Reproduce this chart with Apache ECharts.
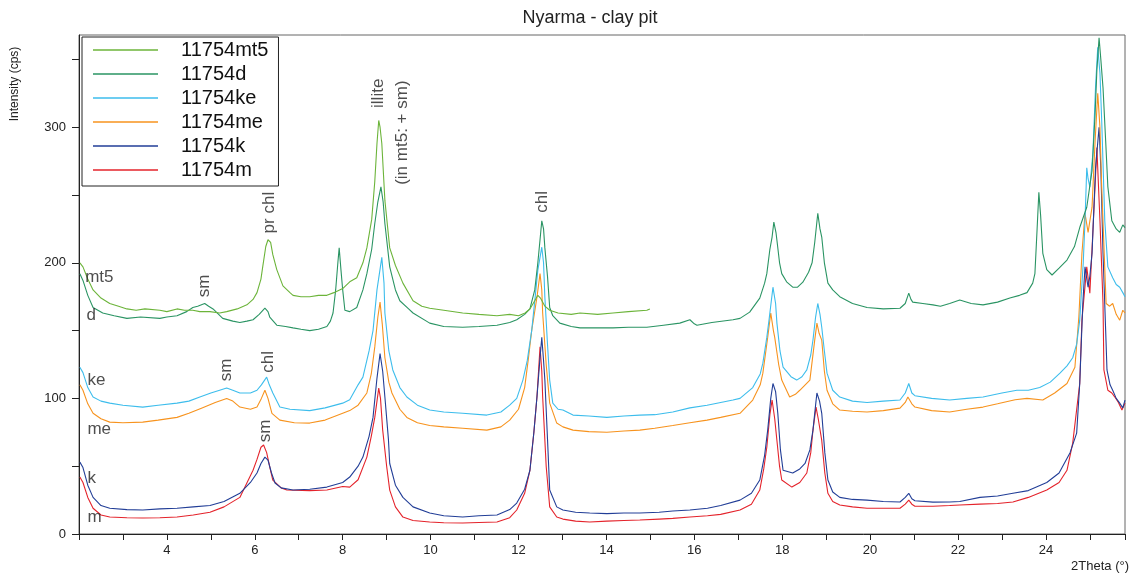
<!DOCTYPE html>
<html>
<head>
<meta charset="utf-8">
<script src="https://cdn.jsdelivr.net/npm/echarts@6/dist/echarts.min.js"></script>
<style>
  html, body { margin: 0; padding: 0; background: #fff; }
  #chart { width: 1141px; height: 577px; }
</style>
</head>
<body>
<div id="chart"></div>
<script>
// series names and colours
const seriesNames = ['11754mt5', '11754d', '11754ke', '11754me', '11754k', '11754m'];
const seriesColors = ['#6cb43a', '#2a9463', '#3dbdec', '#f7931e', '#223e97', '#e4232b'];

// [2theta, cps]
const mt5 = [[2.02,200],[2.09,197],[2.2,188],[2.32,180],[2.5,174],[2.7,170],[2.9,168],[3.09,166],[3.3,165],[3.5,166],[3.84,165],[4.0,164],[4.23,166],[4.4,165],[4.59,165],[4.75,164],[4.98,164],[5.2,163],[5.36,164],[5.6,166],[5.82,169],[5.96,173],[6.05,178],[6.14,188],[6.18,197],[6.25,212],[6.30,217],[6.36,215],[6.41,206],[6.50,195],[6.64,183],[6.8,178],[6.87,176],[7.05,175],[7.25,175],[7.45,176],[7.64,176],[7.8,178],[8.0,181],[8.16,186],[8.32,189],[8.46,200],[8.55,211],[8.66,232],[8.73,260],[8.78,288],[8.82,305],[8.85,300],[8.89,288],[8.96,246],[9.07,211],[9.2,198],[9.37,185],[9.6,172],[9.8,168],[9.98,166.5],[10.3,165],[10.73,163],[11.1,162],[11.51,161],[11.8,162],[12.0,161],[12.15,163],[12.26,166],[12.37,172],[12.44,176],[12.50,174],[12.60,168],[12.71,165],[12.9,163],[13.2,162],[13.40,163],[13.8,162],[14.15,163],[14.5,164],[14.92,165],[14.99,166]];
const d = [[2.02,192],[2.09,187],[2.2,176],[2.32,167],[2.54,163],[2.8,161],[3.09,159],[3.4,160],[3.84,159],[4.0,160],[4.23,161],[4.45,164],[4.59,167],[4.7,168],[4.86,170],[4.95,168],[5.05,166],[5.27,159],[5.5,157],[5.66,156],[5.82,157],[5.96,158],[6.10,162],[6.23,166.5],[6.30,164],[6.34,160],[6.50,154],[6.7,153],[6.87,152],[7.05,151],[7.25,150],[7.45,151],[7.64,153],[7.72,157],[7.78,163],[7.84,180],[7.89,200],[7.92,211],[7.96,195],[8.0,180],[8.05,165],[8.16,164],[8.32,167],[8.46,180],[8.55,192],[8.66,210],[8.73,229],[8.80,245],[8.87,256],[8.92,245],[8.96,229],[9.07,197],[9.2,180],[9.30,172],[9.5,166],[9.6,163],[9.98,155.5],[10.3,153],[10.73,152.5],[11.1,153],[11.51,154],[11.8,156],[11.96,158],[12.14,162],[12.26,166],[12.37,180],[12.44,200],[12.49,217],[12.53,231],[12.57,225],[12.60,211],[12.66,190],[12.71,167],[12.78,161],[12.94,155.5],[13.2,153],[13.40,152],[13.8,152],[14.15,152],[14.5,152.5],[14.92,152.5],[15.3,154],[15.67,155.5],[15.90,158],[16.0,155],[16.06,154],[16.4,156],[16.88,158],[17.04,159],[17.26,163.6],[17.49,174],[17.60,185],[17.65,192],[17.72,210],[17.77,219],[17.81,230],[17.86,222],[17.88,216.6],[17.94,200],[17.99,192],[18.1,186],[18.24,182],[18.35,182],[18.47,185.7],[18.6,193],[18.68,200],[18.74,215],[18.81,236.5],[18.86,225],[18.90,219],[18.96,200],[19.04,185],[19.15,180],[19.31,175],[19.6,170],[19.93,167],[20.3,166],[20.68,166.5],[20.80,170],[20.88,177.6],[20.93,173],[20.97,171],[21.2,170],[21.43,169],[21.6,168],[21.81,170],[22.04,172.5],[22.3,170],[22.57,169],[22.9,171],[23.18,174],[23.4,176],[23.57,178],[23.70,185],[23.75,192],[23.80,225],[23.84,252],[23.88,235],[23.93,207],[24.02,195],[24.14,191],[24.3,196],[24.48,202],[24.65,212],[24.77,226],[24.93,241],[25.05,268],[25.12,310],[25.16,342],[25.21,366],[25.25,350],[25.30,329],[25.36,290],[25.41,256],[25.50,231],[25.60,225],[25.68,222.5],[25.75,228],[25.80,226]];
const ke = [[2.02,123],[2.09,119],[2.2,108],[2.32,101],[2.5,98],[2.70,96.5],[3.0,95],[3.45,93.6],[3.8,95],[4.23,96.5],[4.5,98],[4.75,101],[5.0,104],[5.2,106],[5.36,107.6],[5.5,106],[5.66,104],[5.9,104],[6.05,106],[6.15,110],[6.27,115.7],[6.33,110],[6.41,104],[6.57,93.6],[6.8,92],[7.25,91],[7.6,93],[8.0,96.5],[8.16,99],[8.35,110],[8.46,115.7],[8.60,135],[8.69,150],[8.78,180],[8.89,204],[8.94,185],[8.96,163],[9.05,135],[9.14,121],[9.30,108],[9.46,101],[9.7,95],[9.98,91.4],[10.3,90],[10.73,89],[11.28,87.7],[11.6,90],[11.80,95],[11.96,100],[12.10,113.5],[12.20,128],[12.30,150],[12.38,175],[12.44,194.5],[12.53,211.5],[12.57,200],[12.60,174.6],[12.66,140],[12.71,113.5],[12.78,96.5],[12.90,92],[13.01,91.4],[13.24,87.7],[13.6,87],[14.01,86],[14.4,87],[14.76,87.7],[15.1,88],[15.51,90],[15.9,93],[16.29,95],[16.6,97],[16.88,98.8],[17.04,100],[17.33,108],[17.50,118],[17.56,126],[17.65,145],[17.70,157.7],[17.79,182],[17.85,170],[17.88,155.5],[17.95,135],[18.02,123],[18.2,116],[18.33,113.5],[18.45,116],[18.56,121],[18.65,132],[18.70,143],[18.76,160],[18.81,170],[18.86,162],[18.90,152.5],[18.96,135],[19.02,118.6],[19.15,106],[19.31,101],[19.6,98],[19.93,97],[20.3,98],[20.68,98.8],[20.80,104],[20.88,111],[20.95,104],[21.02,102],[21.4,100],[21.81,98.8],[22.2,100],[22.57,101],[23.0,104],[23.34,106],[23.6,106],[23.86,108],[24.1,112],[24.32,118.6],[24.48,124],[24.61,130],[24.70,140],[24.77,157.7],[24.85,200],[24.89,231],[24.93,270],[24.96,262],[25.00,256],[25.07,281],[25.13,330],[25.18,359],[25.23,340],[25.27,305],[25.34,231],[25.41,197],[25.52,189],[25.60,184],[25.68,182],[25.75,178],[25.80,175]];
const me = [[2.02,110],[2.09,106],[2.2,96],[2.32,89],[2.5,85],[2.70,82.5],[3.0,82],[3.45,82.5],[3.8,84],[4.23,86],[4.5,89],[4.8,93],[5.1,97],[5.36,100],[5.5,98],[5.66,93.6],[5.9,92],[6.05,93.6],[6.15,100],[6.23,106],[6.30,100],[6.39,89],[6.57,84],[6.9,82],[7.25,81.8],[7.6,84],[8.0,89],[8.16,91],[8.35,95],[8.55,104],[8.65,118],[8.73,138],[8.80,160],[8.85,171],[8.90,155],[8.96,130],[9.05,112],[9.12,104],[9.3,92],[9.46,86],[9.7,82],[9.98,80],[10.3,79],[10.73,78],[11.28,76.6],[11.6,79],[11.80,84],[12.0,92],[12.14,108],[12.22,128],[12.30,150],[12.42,174.6],[12.49,192],[12.53,180],[12.55,163],[12.63,125],[12.71,96.5],[12.87,81.8],[13.01,79],[13.24,76.6],[13.6,75.5],[14.01,75],[14.4,76],[14.76,76.6],[15.1,78],[15.51,80],[15.9,82],[16.29,84],[16.6,86],[17.04,89],[17.33,98.8],[17.50,110],[17.56,118.6],[17.67,145],[17.74,163],[17.80,150],[17.83,145],[17.92,125],[17.99,113.5],[18.17,101],[18.30,103],[18.40,106],[18.63,113.5],[18.74,143],[18.79,155.5],[18.84,148],[18.90,143],[18.96,120],[19.02,106],[19.15,96],[19.31,91.4],[19.6,90.5],[19.93,90],[20.3,91],[20.68,92.8],[20.80,97],[20.86,101],[20.95,96],[21.02,93.6],[21.4,91],[21.81,90],[22.2,92],[22.57,93.6],[22.9,96],[23.3,99],[23.57,100],[23.93,98.8],[24.2,104],[24.48,111],[24.66,123],[24.75,160],[24.82,207],[24.89,236.5],[24.96,222.5],[25.05,241],[25.12,290],[25.18,325],[25.23,300],[25.27,256],[25.37,170],[25.45,168],[25.52,170],[25.60,162],[25.68,157.7],[25.75,165],[25.80,163]];
const k = [[2.02,53],[2.09,49],[2.2,36],[2.32,27],[2.50,21],[2.70,19],[3.09,18],[3.45,17.7],[3.84,18.5],[4.23,19],[4.6,20],[4.98,21],[5.3,24],[5.66,30],[5.9,38],[6.05,45],[6.14,52],[6.23,56.7],[6.30,54.5],[6.38,45],[6.46,37.6],[6.6,34],[6.87,32.4],[7.25,33],[7.64,34.6],[8.0,38],[8.16,42],[8.35,50],[8.46,56.7],[8.60,72],[8.69,86],[8.78,115],[8.85,133],[8.91,120],[8.96,101],[9.04,70],[9.07,52],[9.2,36],[9.37,27],[9.6,20],[9.98,15.5],[10.3,13.5],[10.73,12.5],[11.1,13.5],[11.51,14],[11.8,18],[11.96,22.8],[12.14,33],[12.26,47],[12.35,75],[12.42,101],[12.49,130],[12.53,145],[12.57,128],[12.60,113.5],[12.66,70],[12.71,32.4],[12.87,20],[13.01,17.7],[13.3,16],[13.62,15.5],[14.01,15],[14.4,15.5],[14.76,15.5],[15.2,16],[15.51,17],[15.90,17.7],[16.3,19],[16.6,21],[17.04,25],[17.3,30],[17.49,39.8],[17.60,58],[17.67,76.6],[17.74,100],[17.79,111],[17.85,105],[17.90,89],[17.96,62],[18.02,47],[18.24,45],[18.40,48],[18.52,52],[18.63,62],[18.70,76.6],[18.76,95],[18.79,104],[18.85,98],[18.90,89],[18.97,60],[19.04,39.8],[19.15,31],[19.31,27],[19.6,25.5],[19.93,25],[20.3,24],[20.68,23.6],[20.80,27],[20.88,30],[20.95,26],[21.02,24.5],[21.43,23.5],[21.81,23.6],[22.04,24],[22.50,27],[22.9,28],[23.25,30],[23.6,32],[24.02,38],[24.3,45],[24.55,60],[24.70,74.4],[24.77,111],[24.84,170],[24.89,197],[24.96,182],[25.00,190],[25.05,207],[25.13,270],[25.21,300],[25.25,270],[25.30,207],[25.36,150],[25.39,121],[25.46,110],[25.52,106],[25.60,100],[25.68,96.5],[25.75,93],[25.80,98.8]];
const m = [[2.02,42],[2.09,38],[2.2,27],[2.32,19],[2.50,14],[2.70,12.5],[3.09,12],[3.45,11.8],[3.84,12],[4.23,12.5],[4.6,14],[4.98,16],[5.3,20],[5.66,27],[5.96,47],[6.05,55],[6.14,64],[6.20,65.6],[6.27,60],[6.35,48],[6.41,39.8],[6.6,34],[6.73,32.4],[7.25,32],[7.64,32.4],[8.0,35],[8.16,34.6],[8.35,40],[8.55,56.7],[8.65,72],[8.73,86],[8.82,107.6],[8.86,100],[8.91,76.6],[9.0,50],[9.07,32.4],[9.2,20],[9.37,12.5],[9.6,10],[9.98,8.8],[10.3,8.3],[10.73,8.1],[11.1,8.5],[11.51,8.8],[11.8,12],[11.96,17.7],[12.14,30],[12.26,47],[12.35,75],[12.42,101],[12.49,138],[12.53,120],[12.55,101],[12.63,50],[12.71,20],[12.87,12.5],[13.01,11],[13.3,9.5],[13.62,8.8],[14.01,9.5],[14.4,10],[14.76,10.3],[15.2,11],[15.51,11.5],[15.90,12.5],[16.3,13.5],[16.6,14.5],[17.04,17.7],[17.3,22],[17.49,32.4],[17.58,48],[17.65,64],[17.72,88],[17.77,98.8],[17.83,85],[17.88,69],[17.94,50],[17.99,39.8],[18.22,34.6],[18.40,38],[18.56,45],[18.65,60],[18.70,76.6],[18.77,93.6],[18.82,85],[18.90,69],[18.97,45],[19.04,30],[19.15,24],[19.31,21.4],[19.6,20],[19.93,19],[20.3,19],[20.68,19],[20.80,22],[20.88,25],[20.95,22],[21.02,20.5],[21.43,20.5],[21.81,21],[22.04,21.4],[22.5,22],[22.9,22.5],[23.25,23.6],[23.6,27],[24.02,32.4],[24.3,38],[24.48,47],[24.61,67],[24.77,111],[24.82,157.7],[24.93,197],[25.00,177.6],[25.05,210],[25.16,285],[25.23,231],[25.30,170],[25.32,121],[25.41,106],[25.50,104],[25.57,101],[25.65,97],[25.73,91.4],[25.80,96.5]];

// peak annotations (vertical text): [2theta, cps, text]
const peakNotes = [
  [6.34, 237, 'pr chl'],
  [4.86, 183, 'sm'],
  [8.82, 325, 'illite'],
  [9.35, 296, '(in mt5: + sm)'],
  [12.55, 245, 'chl'],
  [5.36, 121, 'sm'],
  [6.30, 127, 'chl'],
  [6.23, 76, 'sm']
];
// short sample names beside the curves
const curveNotes = [
  [2.13, 189, 'mt5'],
  [2.16, 161, 'd'],
  [2.18, 113, 'ke'],
  [2.18, 77, 'me'],
  [2.18, 41, 'k'],
  [2.18, 12, 'm']
];

const font = 'Liberation Sans, Arial, sans-serif';
const allData = [mt5, d, ke, me, k, m];

const lineSeries = seriesNames.map((name, i) => ({
  name: name,
  type: 'line',
  data: allData[i],
  symbol: 'none',
  lineStyle: { width: 1.1, color: seriesColors[i] },
  itemStyle: { color: seriesColors[i] },
  z: 2 + (6 - i)
}));

const noteSeries = {
  type: 'scatter',
  symbolSize: 1,
  itemStyle: { color: 'rgba(0,0,0,0)' },
  silent: true,
  z: 10,
  data: peakNotes.map(p => ({
    value: [p[0], p[1]],
    label: {
      show: true, position: 'inside', rotate: 90, formatter: p[2],
      fontSize: 17, fontFamily: font, color: '#222'
    }
  }))
};

const nameSeries = {
  type: 'scatter',
  symbolSize: 1,
  itemStyle: { color: 'rgba(0,0,0,0)' },
  silent: true,
  z: 10,
  data: curveNotes.map(p => ({
    value: [p[0], p[1]],
    label: {
      show: true, position: 'right', distance: 0, formatter: p[2],
      fontSize: 17, fontFamily: font, color: '#222'
    }
  }))
};

const chart = echarts.init(document.getElementById('chart'));
chart.setOption({
  animation: false,
  title: {
    text: 'Nyarma - clay pit',
    left: 585,
    top: 4,
    textAlign: 'center',
    textStyle: { fontSize: 18, fontWeight: 'normal', fontFamily: font, color: '#222' }
  },
  grid: {
    left: 79, right: 16, top: 35, bottom: 43,
    show: true, borderColor: '#666', borderWidth: 1
  },
  legend: {
    data: seriesNames,
    orient: 'vertical',
    left: 82,
    top: 37,
    padding: [3, 10, 6, 11],
    itemGap: 4,
    itemWidth: 65,
    itemHeight: 1.5,
    icon: 'rect',
    backgroundColor: '#fff',
    borderColor: '#222',
    borderWidth: 1,
    z: 20,
    textStyle: { fontSize: 20, lineHeight: 20, fontFamily: font, color: '#111', padding: [0, 0, 0, 18] }
  },
  xAxis: {
    type: 'value',
    min: 2,
    max: 25.8,
    interval: 2,
    splitLine: { show: false },
    axisLine: { lineStyle: { color: '#222' } },
    axisTick: { length: 6, lineStyle: { color: '#222' } },
    minorTick: { show: true, splitNumber: 2, length: 6, lineStyle: { color: '#222' } },
    axisLabel: {
      showMinLabel: false, showMaxLabel: false, margin: 10,
      fontSize: 13, fontFamily: font, color: '#222'
    }
  },
  yAxis: {
    type: 'value',
    min: 0,
    max: 368,
    interval: 50,
    splitLine: { show: false },
    axisLine: { show: true, lineStyle: { color: '#222' } },
    axisTick: { show: true, length: 7, lineStyle: { color: '#222' } },
    axisLabel: {
      showMaxLabel: false, margin: 13,
      fontSize: 13, fontFamily: font, color: '#222',
      formatter: v => (v % 100 === 0 ? String(v) : '')
    }
  },
  graphic: [
    {
      type: 'text', x: 15, y: 84, rotation: Math.PI / 2,
      style: { text: 'Intensity (cps)', font: '12px ' + font, fill: '#222', textAlign: 'center', textVerticalAlign: 'middle' }
    },
    {
      type: 'text', right: 12, top: 560,
      style: { text: '2Theta (°)', font: '13px ' + font, fill: '#222' }
    }
  ],
  series: lineSeries.concat([noteSeries, nameSeries])
});
</script>
</body>
</html>
